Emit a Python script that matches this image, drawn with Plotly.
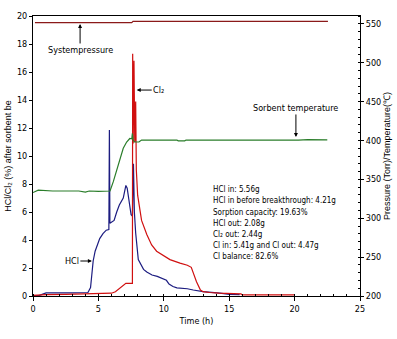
import plotly.graph_objects as go

# HCl outlet concentration (%), left axis
hcl_time = [0.0, 0.5, 0.8, 1.0, 3.0, 4.2, 4.4, 4.5, 4.6, 4.75, 4.9, 5.1, 5.35, 5.6, 5.8,
            5.84, 5.88, 6.0, 6.2, 6.4, 6.6, 6.9, 7.0, 7.1, 7.2, 7.35, 7.5, 7.6, 7.68,
            7.75, 7.85, 8.05, 8.2, 8.45, 8.7, 9.1, 9.5, 9.85, 10.2, 10.4, 10.7, 11.0,
            11.8, 12.25, 13.0, 14.3, 15.0, 15.8]
hcl_conc = [0.02, 0.05, 0.15, 0.22, 0.22, 0.25, 0.6, 1.5, 2.5, 3.2, 3.6, 4.1, 4.45, 4.7, 4.75,
            11.85, 5.2, 5.3, 5.4, 6.0, 6.5, 7.0, 7.5, 7.9, 7.7, 6.8, 5.8, 5.7, 9.45,
            6.0, 4.5, 2.6, 2.3, 1.9, 1.72, 1.5, 1.4, 1.25, 1.12, 0.85, 0.68, 0.58,
            0.52, 0.43, 0.31, 0.2, 0.12, 0.1]

# Cl2 outlet concentration (%), left axis
cl2_time = [0.0, 0.5, 1.0, 2.5, 4.5, 6.0, 6.3, 6.6, 6.9, 7.1, 7.6, 7.62, 7.66, 7.72, 7.78,
            7.85, 7.9, 8.0, 8.13, 8.3, 8.7, 9.07, 9.45, 10.1, 10.47, 11.24, 11.8, 12.1,
            12.25, 12.5, 12.8, 13.0, 13.5, 14.2, 15.9, 16.0, 20.0]
cl2_conc = [0.05, 0.05, 0.1, 0.12, 0.15, 0.2, 0.3, 0.55, 0.8, 0.9, 0.9, 17.3, 10.9, 16.8, 11.0,
            13.9, 9.0, 7.2, 6.4, 5.4, 4.4, 3.65, 3.2, 2.8, 2.6, 2.35, 2.2, 2.05,
            1.62, 1.02, 0.43, 0.31, 0.25, 0.2, 0.15, 0.08, 0.08]

# sorbent temperature (C), right axis
temp_time = [0.0, 0.2, 0.4, 1.5, 3.5, 4.0, 4.3, 5.0, 5.89, 6.14, 6.4, 6.65, 6.9, 7.16, 7.4,
             7.55, 7.6, 7.65, 7.75, 8.1, 8.3, 11.0, 11.1, 11.6, 11.7, 20.3, 21.0, 22.5]
temp_val = [333, 335, 336, 335, 335, 333.5, 335, 334.5, 335, 347, 362, 379, 390, 398, 402.5,
            402, 409, 401, 398, 398, 400.5, 400.5, 399.5, 399.5, 400.5, 400.5, 401, 400.8]

# system pressure (Torr), right axis
pres_time = [0.15, 7.55, 7.65, 22.55]
pres_val = [551.4, 551.4, 553.2, 553.2]

info_lines = [
    "HCl in: 5.56g",
    "HCl in before breakthrough: 4.21g",
    "Sorption capacity: 19.63%",
    "HCl out: 2.08g",
    "Cl₂ out: 2.44g",
    "Cl in: 5.41g and Cl out: 4.47g",
    "Cl balance: 82.6%",
]

NARROW = "Liberation Sans Narrow, Arial Narrow, DejaVu Sans Condensed, sans-serif"
REGULAR = "Liberation Sans, Arial, sans-serif"

fig = go.Figure()
fig.add_trace(go.Scatter(x=pres_time, y=pres_val, yaxis="y2", mode="lines",
                         line=dict(color="#8b1a1a", width=1.2), name="System pressure"))
fig.add_trace(go.Scatter(x=temp_time, y=temp_val, yaxis="y2", mode="lines",
                         line=dict(color="#2a7d2a", width=1.2), name="Sorbent temperature"))
fig.add_trace(go.Scatter(x=hcl_time, y=hcl_conc, mode="lines",
                         line=dict(color="#1c1c80", width=1.2), name="HCl"))
fig.add_trace(go.Scatter(x=cl2_time, y=cl2_conc, mode="lines",
                         line=dict(color="#d01010", width=1.2), name="Cl2"))

arrow = dict(showarrow=True, arrowhead=2, arrowsize=0.8, arrowwidth=1, arrowcolor="black",
             font=dict(family=NARROW, size=9, color="black"))
fig.add_annotation(x=3.6, y=19.43, ax=0, ay=26, text="Systempressure", **arrow)
fig.add_annotation(x=7.93, y=14.71, ax=22, ay=0, text="Cl₂", **arrow)
fig.add_annotation(x=20.1, y=11.36, ax=0, ay=-29, text="Sorbent temperature", **arrow)
fig.add_annotation(x=4.5, y=2.5, ax=-20, ay=0, text="HCl", **arrow)

for i, line in enumerate(info_lines):
    fig.add_annotation(x=13.6, y=7.6 - i * 0.8, xanchor="left", yanchor="middle",
                       showarrow=False, text=line,
                       font=dict(family=NARROW, size=8, color="black"))

fig.update_layout(
    width=397, height=339,
    margin=dict(l=33, r=37, t=16, b=43),
    plot_bgcolor="white", paper_bgcolor="white",
    showlegend=False,
    font=dict(family=NARROW, size=9, color="black"),
    xaxis=dict(range=[0, 25], dtick=5, showgrid=False, zeroline=False, automargin=False,
               showline=True, linecolor="black", linewidth=1, mirror=True,
               ticks="outside", ticklen=4, tickcolor="black",
               minor=dict(dtick=1, ticks="inside", ticklen=2, tickcolor="black"),
               title=dict(text="Time (h)", standoff=4, font=dict(family=NARROW, size=9))),
    yaxis=dict(range=[0, 20], dtick=2, showgrid=False, zeroline=False, automargin=False,
               showline=True, linecolor="black", linewidth=1,
               ticks="outside", ticklen=3, tickcolor="black",
               title=dict(text="HCl/Cl₂ (%) after sorbent be", standoff=3,
                          font=dict(family=REGULAR, size=9))),
    yaxis2=dict(range=[200, 560], tickvals=list(range(200, 551, 50)), overlaying="y",
                side="right", showgrid=False, zeroline=False, automargin=False,
                showline=True, linecolor="black", linewidth=1,
                ticks="outside", ticklen=3, tickcolor="black",
                minor=dict(dtick=10, ticks="inside", ticklen=2, tickcolor="black"),
                title=dict(text="Pressure (Torr)/Temperature(℃)", standoff=3,
                           font=dict(family=REGULAR, size=9))),
)

# drop the default page margin so the figure sits at the window's top-left corner
fig.write_html("out.html", config={"displayModeBar": False},
               post_script="document.body.style.margin = '0px';")
